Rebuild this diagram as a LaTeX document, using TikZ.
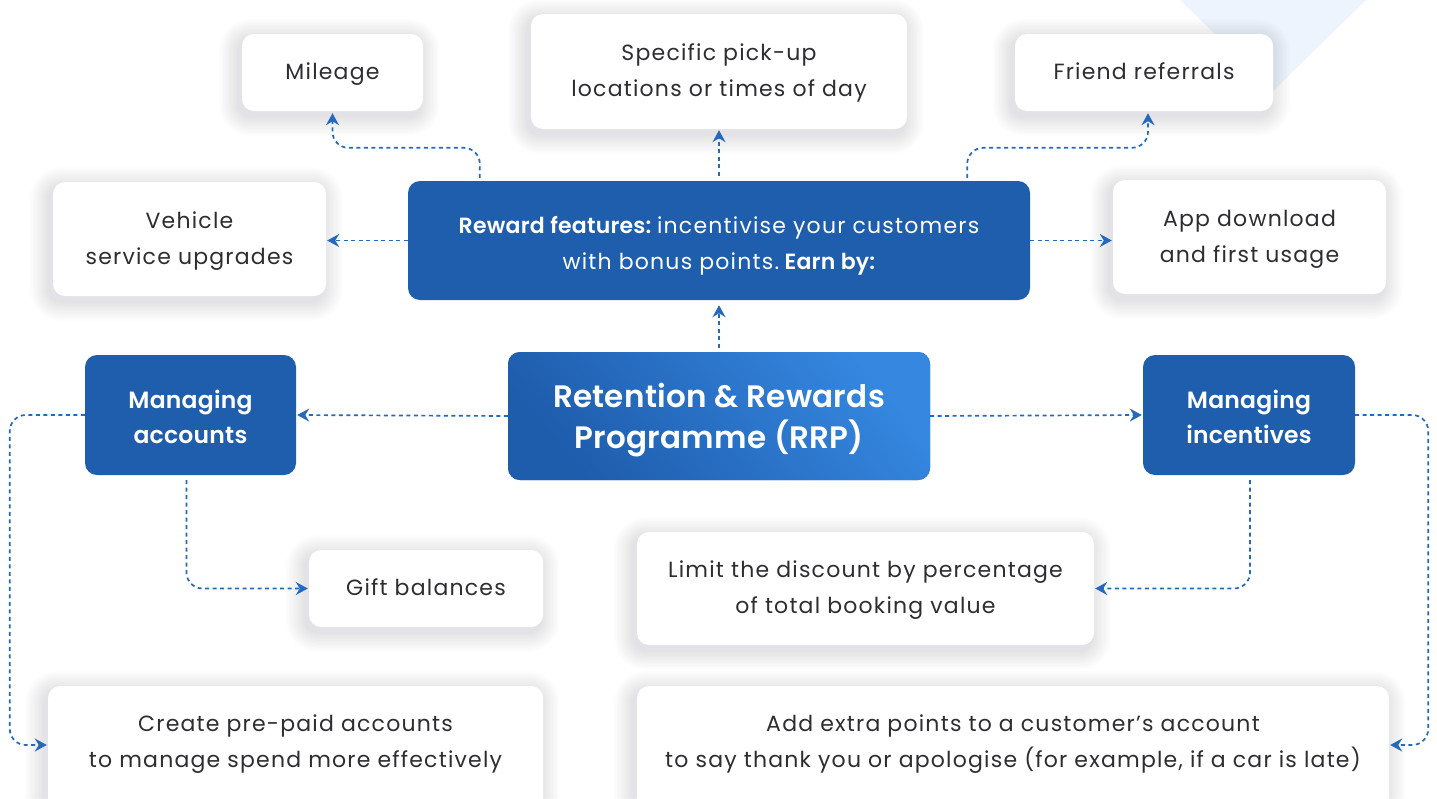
\documentclass[tikz,border=0pt]{standalone}
\usepackage{fontspec}
\setmainfont{Poppins}[LetterSpace=5.5, BoldFont={Poppins SemiBold}, BoldFeatures={LetterSpace=1}]
\usetikzlibrary{arrows.meta,calc}
\definecolor{myblue}{RGB}{31,94,173}
\definecolor{lineblue}{RGB}{38,104,188}
\definecolor{txtgray}{RGB}{45,45,50}
\definecolor{deco}{RGB}{238,244,253}
\definecolor{gradA}{RGB}{53,135,224}
\definecolor{gradB}{RGB}{30,92,172}
\definecolor{shad}{RGB}{90,110,150}
\pgfdeclarelayer{bg}
\pgfsetlayers{bg,main}
\newcommand{\mlines}[1]{\begin{tabular}{@{}c@{}}#1\end{tabular}}
\newcommand{\mlinesdown}[1]{\raisebox{0pt}[\dimexpr\height+8pt\relax][\depth]{\begin{tabular}{@{}c@{}}#1\end{tabular}}}
\tikzset{
  wbox/.style={fill=white, rounded corners=12pt, text=txtgray,
    font=\fontsize{22}{36}\selectfont, inner sep=0pt},
  wtext/.style={text=txtgray, font=\fontsize{22}{36}\selectfont, inner sep=0pt},
  bbox/.style={fill=myblue, rounded corners=12pt, text=white,
    font=\fontsize{23.5}{35}\selectfont\bfseries, inner sep=0pt},
  conn/.style={draw=lineblue, line width=1.7pt, dash pattern=on 4pt off 3.5pt,
    rounded corners=16pt, -{Stealth[length=12pt,width=13pt,inset=4pt]}, shorten >=1pt},
  shadlayer/.style={fill=shad, fill opacity=0.012},
}
\newcommand{\softshadow}[1]{%
  \begin{pgfonlayer}{bg}
  \foreach \i in {1,...,14}{
    \fill[shadlayer, rounded corners={12pt+1.4pt*\i}]
      ($(#1.north west)+(-3-1.4*\i,5-1.4*\i)$) rectangle ($(#1.south east)+(-3+1.4*\i,5+1.4*\i)$);
  }
  \end{pgfonlayer}}
\begin{document}
\begin{tikzpicture}[x=1pt,y=-1pt]
\useasboundingbox (0,0) rectangle (1437,798);
\begin{pgfonlayer}{bg}
\fill[white] (0,0) rectangle (1437,798);
\fill[deco] (1180,0) -- (1273,91) -- (1366,0) -- cycle;
\end{pgfonlayer}

% white boxes
\node[wbox, minimum width=181pt, minimum height=77pt] (mil) at (332.5,72.5) {\mlines{Mileage}};
\node[wbox, minimum width=376pt, minimum height=115pt] (pick) at (719,71.5) {\mlines{Specific pick-up\\locations or times of day}};
\node[wbox, minimum width=258pt, minimum height=77pt] (fri) at (1144,72.5) {\mlines{Friend referrals}};
\node[wbox, minimum width=273pt, minimum height=114pt] (veh) at (189.5,239) {\mlines{Vehicle\\service upgrades}};
\node[wbox, minimum width=273pt, minimum height=114pt] (app) at (1249.5,237) {\mlines{App download\\and first usage}};
\node[wbox, minimum width=234pt, minimum height=77pt] (gift) at (426,588.5) {\mlines{Gift balances}};
\node[wbox, minimum width=457pt, minimum height=113pt] (lim) at (865.5,588.5) {\mlines{Limit the discount by percentage\\of total booking value}};
\node[wbox, minimum width=495pt, minimum height=124pt] (cre) at (295.5,748) {};
\node[wtext] (cret) at (295.5,742.5) {\mlines{Create pre-paid accounts\\to manage spend more effectively}};
\node[wbox, minimum width=752pt, minimum height=124pt] (add) at (1013,748) {};
\node[wtext] (addt) at (1013,742) {\mlines{Add extra points to a customer’s account\\to say thank you or apologise (for example, if a car is late)}};
\softshadow{mil}\softshadow{pick}\softshadow{fri}\softshadow{veh}\softshadow{app}
\softshadow{gift}\softshadow{lim}\softshadow{cre}\softshadow{add}

% blue boxes
\node[bbox, minimum width=622pt, minimum height=119pt, font=\fontsize{22}{36}\selectfont] (rew) at (719,240.5)
  {\mlinesdown{\textbf{Reward features:}\hspace{-4pt} incentivise your customers\\with bonus points.\hspace{-4pt} \textbf{Earn by:}}};
\node[bbox, minimum width=211pt, minimum height=120pt] (macc) at (190.5,415) {\mlinesdown{Managing\\accounts}};
\node[bbox, minimum width=212pt, minimum height=120pt] (minc) at (1249,415) {\mlinesdown{Managing\\incentives}};
\node[bbox, minimum width=422pt, minimum height=128pt, shading=axis, top color=gradA, bottom color=gradB, shading angle=-50,
  font=\fontsize{31}{41}\selectfont\bfseries] (rrp) at (719,416) {\mlinesdown{Retention \& Rewards\\Programme (RRP)}};

% connectors
\draw[conn] ([xshift=72pt,yshift=3pt]rew.north west) -- ++(0,-30) -| ([yshift=-1pt]mil.south);
\draw[conn] ([yshift=5pt]rew.north) -- (pick.south);
\draw[conn] ([xshift=-63pt,yshift=3pt]rew.north east) -- ++(0,-30) -| ([xshift=4pt,yshift=-1pt]fri.south);
\draw[conn] (rew.west) -- (rew.west -| veh.east);
\draw[conn] (rew.east) -- (rew.east -| app.west);
\draw[conn] ([yshift=4pt]rrp.north) -- ([yshift=-4pt]rew.south);
\draw[conn] (rrp.west) -- (macc.east);
\draw[conn] (rrp.east) -- (minc.west);
\draw[conn] ([xshift=-4pt,yshift=-5pt]macc.south) |- (gift.west);
\draw[conn] ([xshift=1pt,yshift=-5pt]minc.south) |- (lim.east);
\draw[conn] (macc.west) -- ++(-75,0) |- ([yshift=3pt]cre.west);
\draw[conn] (minc.east) -- ++(73,0) |- ([yshift=3pt]add.east);
\end{tikzpicture}
\end{document}
